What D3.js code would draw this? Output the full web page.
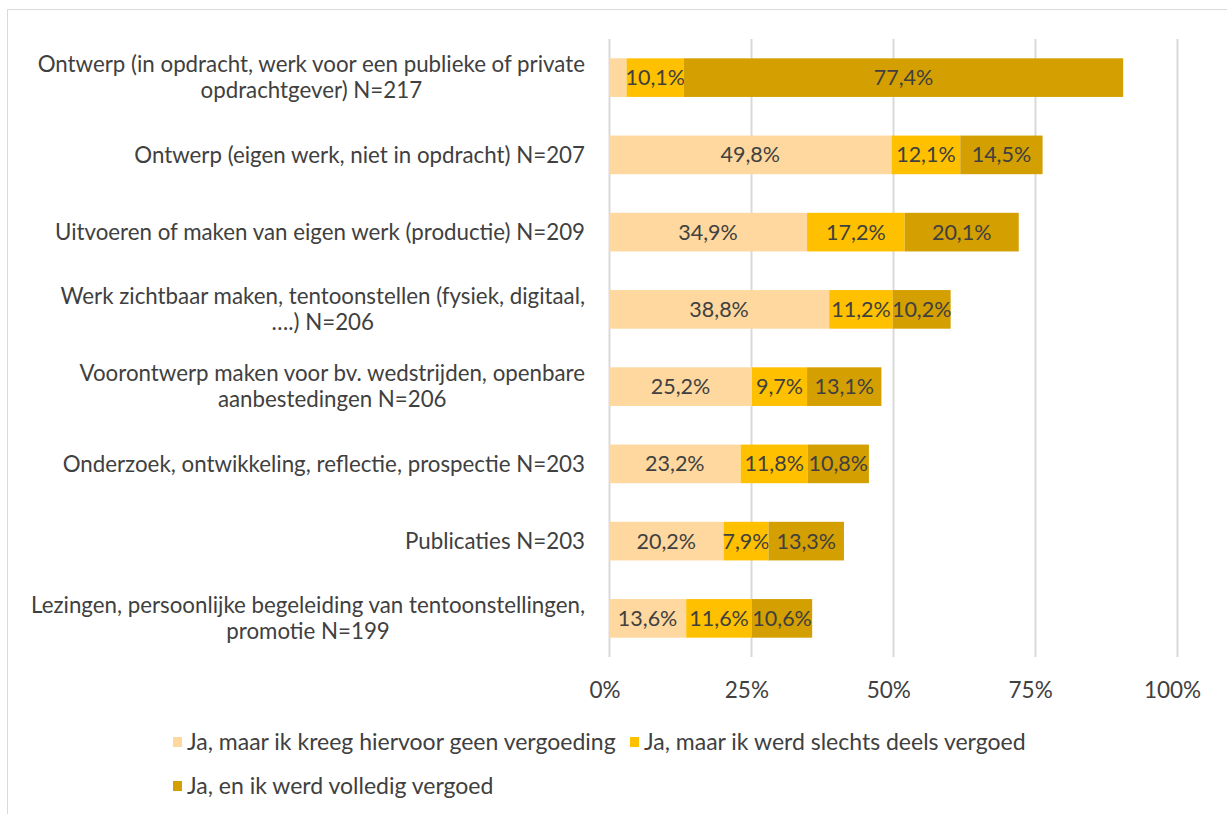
<!DOCTYPE html>
<html>
<head>
<meta charset="utf-8">
<script src="https://cdn.jsdelivr.net/npm/d3@7"></script>
<style>
  body { margin: 0; background: #fff; }
  svg { display: block; font-family: Lato, "Open Sans", sans-serif; }
</style>
</head>
<body>
<svg id="chart" width="1227" height="814"></svg>
<script>
// category labels, already split into the lines shown in the chart
const categories = [
  ["Ontwerp (in opdracht, werk voor een publieke of private", "opdrachtgever) N=217"],
  ["Ontwerp (eigen werk, niet in opdracht) N=207"],
  ["Uitvoeren of maken van eigen werk (productie) N=209"],
  ["Werk zichtbaar maken, tentoonstellen (fysiek, digitaal,", "….) N=206"],
  ["Voorontwerp maken voor bv. wedstrijden, openbare", "aanbestedingen N=206"],
  ["Onderzoek, ontwikkeling, reflectie, prospectie N=203"],
  ["Publicaties N=203"],
  ["Lezingen, persoonlijke begeleiding van tentoonstellingen,", "promotie N=199"]
];
const geenVergoeding = [3.1, 49.8, 34.9, 38.8, 25.2, 23.2, 20.2, 13.6];
const deelsVergoed   = [10.1, 12.1, 17.2, 11.2, 9.7, 11.8, 7.9, 11.6];
const volledig       = [77.4, 14.5, 20.1, 10.2, 13.1, 10.8, 13.3, 10.6];
const seriesNames = [
  "Ja, maar ik kreeg hiervoor geen vergoeding",
  "Ja, maar ik werd slechts deels vergoed",
  "Ja, en ik werd volledig vergoed"
];
const xTicks = [0, 25, 50, 75, 100];

const colors = ["#FED89F", "#FFC000", "#D49F00"];
const textColor = "#404040";

const svg = d3.select("#chart");
const margin = {top: 39, left: 609, right: 1227 - 1176.5, bottom: 814 - 657};

// chart frame (only top and left edges are visible in the picture)
svg.append("path")
    .attr("d", "M7.5,814 V9.5 H1227")
    .attr("fill", "none")
    .attr("stroke", "#d9d9d9")
    .attr("stroke-width", 1);

const x = d3.scaleLinear().domain([0, 100]).range([margin.left, 1176.5]);
const y = d3.scaleBand()
    .domain(d3.range(categories.length))
    .range([margin.top, 814 - margin.bottom])
    .paddingInner(0.5)
    .paddingOuter(0.25);

// grid
svg.append("g").selectAll("line")
  .data(xTicks)
  .join("line")
    .attr("x1", d => Math.round(x(d)) + 0.5)
    .attr("x2", d => Math.round(x(d)) + 0.5)
    .attr("y1", margin.top)
    .attr("y2", 814 - margin.bottom)
    .attr("stroke", "#d9d9d9")
    .attr("stroke-width", 2);

// stack data
const rows = categories.map((c, i) => ({
  i: i,
  a: geenVergoeding[i],
  b: deelsVergoed[i],
  c: volledig[i]
}));
const stack = d3.stack().keys(["a", "b", "c"]);
const layers = stack(rows);

const layerG = svg.append("g").selectAll("g")
  .data(layers)
  .join("g")
    .attr("fill", (d, k) => colors[k]);

layerG.selectAll("rect")
  .data(d => d)
  .join("rect")
    .attr("x", d => x(d[0]))
    .attr("width", d => x(d[1]) - x(d[0]))
    .attr("y", d => y(d.data.i))
    .attr("height", y.bandwidth());

// data labels (the tiny first segment of the first bar has none)
const fmt = v => v.toFixed(1).replace(".", ",") + "%";
layerG.selectAll("text")
  .data(d => d.filter(s => (s[1] - s[0]) >= 5))
  .join("text")
    .attr("x", d => (x(d[0]) + x(d[1])) / 2)
    .attr("y", d => y(d.data.i) + y.bandwidth() / 2)
    .attr("dy", "0.35em")
    .attr("text-anchor", "middle")
    .attr("fill", textColor)
    .style("font-size", "21.5px")
    .text(d => fmt(d[1] - d[0]));

// category labels: centred block, right edge at 585
const labelG = svg.append("g")
    .style("font-size", "22.3px")
    .attr("fill", textColor);

categories.forEach((lines, i) => {
  const cy = y(i) + y.bandwidth() / 2;
  const t = labelG.append("text")
      .attr("text-anchor", "middle")
      .attr("y", cy);
  lines.forEach((ln, j) => {
    t.append("tspan")
      .attr("x", 0)
      .attr("y", cy + (j - (lines.length - 1) / 2) * 26)
      .attr("dy", "0.35em")
      .text(ln);
  });
  const w = t.node().getBBox().width;
  t.selectAll("tspan").attr("x", 585 - w / 2);
});

// x axis labels
svg.append("g").selectAll("text")
  .data(xTicks)
  .join("text")
    .attr("x", d => x(d) - 4)
    .attr("y", 690)
    .attr("dy", "0.35em")
    .attr("text-anchor", "middle")
    .attr("fill", textColor)
    .style("font-size", "22.5px")
    .text(d => d + "%");

// legend
const legendPos = [[173, 742], [630, 742], [173, 786]];
const legend = svg.append("g").selectAll("g")
  .data(seriesNames)
  .join("g")
    .attr("transform", (d, k) => `translate(${legendPos[k][0]},${legendPos[k][1]})`);
legend.append("rect")
    .attr("x", 0).attr("y", -5)
    .attr("width", 9).attr("height", 10)
    .attr("fill", (d, k) => colors[k]);
legend.append("text")
    .attr("x", 14)
    .attr("dy", "0.35em")
    .attr("fill", textColor)
    .style("font-size", "23px")
    .text(d => d);
</script>
</body>
</html>
